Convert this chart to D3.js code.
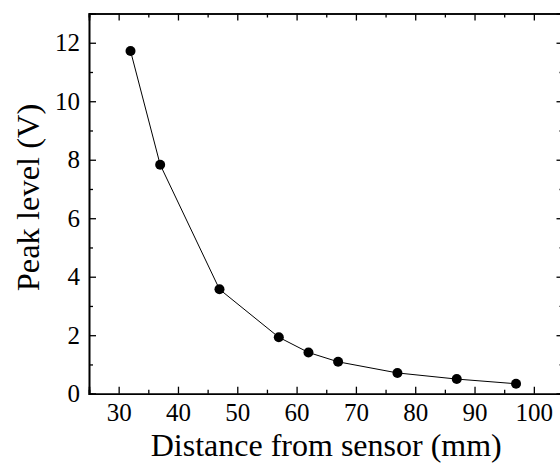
<!DOCTYPE html>
<html>
<head>
<meta charset="utf-8">
<script src="https://cdn.jsdelivr.net/npm/d3@7"></script>
<style>
  body { margin: 0; background: #fff; }
  svg text { font-family: "Liberation Serif", "Times New Roman", serif; fill: #000; }
</style>
</head>
<body>
<script>
var w = 560;
var h = 463;

// distance from sensor (mm) and peak level (V)
var distance = [32, 37, 47, 57, 62, 67, 77, 87, 97];
var peak = [11.72, 7.83, 3.57, 1.93, 1.41, 1.09, 0.71, 0.5, 0.34];
var xTicks = [30, 40, 50, 60, 70, 80, 90, 100];
var yTicks = [0, 2, 4, 6, 8, 10, 12];

var pLeft = 89, pTop = 13.5, pRight = 563.5, pBottom = 393.7;

var svg = d3.select("body").append("svg").attr("width", w).attr("height", h);

var x = d3.scaleLinear().domain([25, 105]).range([pLeft, pRight]);
var y = d3.scaleLinear().domain([0, 13]).range([pBottom, pTop]);

var xMinor = d3.range(25, 106, 5).filter(function (d) { return xTicks.indexOf(d) < 0; });
var yMinor = d3.range(1, 13, 2);

function styleAxis(g) {
    g.select(".domain").attr("stroke", "#000").attr("stroke-width", 1.6);
    g.selectAll(".tick line").attr("stroke", "#000").attr("stroke-width", 1.3);
}

// minor ticks
svg.append("g").attr("transform", "translate(0," + pBottom + ")")
    .call(d3.axisBottom(x).tickValues(xMinor).tickSize(-4).tickFormat(""))
    .call(styleAxis);
svg.append("g").attr("transform", "translate(0," + pTop + ")")
    .call(d3.axisTop(x).tickValues(xMinor).tickSize(-4).tickFormat(""))
    .call(styleAxis);
svg.append("g").attr("transform", "translate(" + pLeft + ",0)")
    .call(d3.axisLeft(y).tickValues(yMinor).tickSize(-4).tickFormat(""))
    .call(styleAxis);
svg.append("g").attr("transform", "translate(" + pRight + ",0)")
    .call(d3.axisRight(y).tickValues(yMinor).tickSize(-4).tickFormat(""))
    .call(styleAxis);

// major ticks
var xAxis = svg.append("g").attr("transform", "translate(0," + pBottom + ")")
    .call(d3.axisBottom(x).tickValues(xTicks).tickSize(-7).tickPadding(10))
    .call(styleAxis);
xAxis.attr("font-size", 25);
xAxis.selectAll("text").attr("fill", "#000");

svg.append("g").attr("transform", "translate(0," + pTop + ")")
    .call(d3.axisTop(x).tickValues(xTicks).tickSize(-7).tickFormat(""))
    .call(styleAxis);

var yAxis = svg.append("g").attr("transform", "translate(" + pLeft + ",0)")
    .call(d3.axisLeft(y).tickValues(yTicks).tickSize(-7).tickPadding(9))
    .call(styleAxis);
yAxis.attr("font-size", 25);
yAxis.selectAll("text").attr("fill", "#000");

svg.append("g").attr("transform", "translate(" + pRight + ",0)")
    .call(d3.axisRight(y).tickValues(yTicks).tickSize(-7).tickFormat(""))
    .call(styleAxis);

var data = distance.map(function (d, i) { return { x: d, y: peak[i] }; });

var line = d3.line()
    .x(function (d) { return x(d.x); })
    .y(function (d) { return y(d.y); });

svg.append("path")
    .datum(data)
    .attr("d", line)
    .attr("fill", "none")
    .attr("stroke", "#000")
    .attr("stroke-width", 1);

svg.selectAll("circle")
    .data(data)
    .enter()
    .append("circle")
    .attr("cx", function (d) { return x(d.x); })
    .attr("cy", function (d) { return y(d.y); })
    .attr("r", 5)
    .attr("fill", "#000");

svg.append("text")
    .attr("x", (pLeft + pRight) / 2)
    .attr("y", 456)
    .attr("text-anchor", "middle")
    .attr("font-size", 32)
    .text("Distance from sensor (mm)");

svg.append("text")
    .attr("transform", "translate(39,197.5) rotate(-90)")
    .attr("text-anchor", "middle")
    .attr("font-size", 32.5)
    .text("Peak level (V)");
</script>
</body>
</html>
